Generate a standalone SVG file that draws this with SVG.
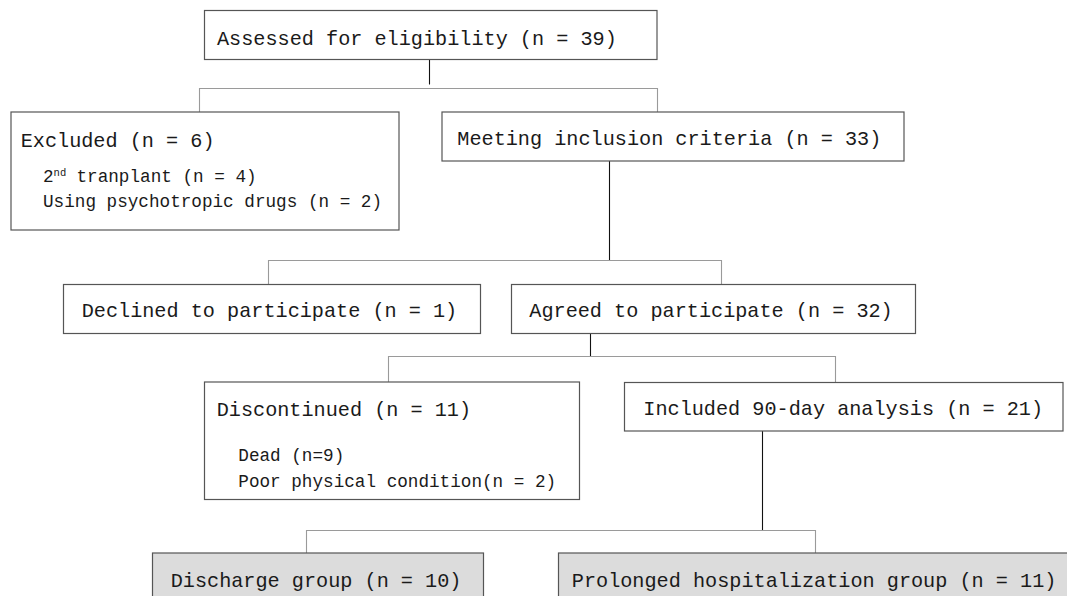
<svg xmlns="http://www.w3.org/2000/svg" width="1067" height="596" viewBox="0 0 1067 596">
<style>
.box{fill:#ffffff;stroke:#555555;stroke-width:1.2}
.grp{fill:#dcdcdc;stroke:#555555;stroke-width:1.2}
.t{font-family:"Liberation Mono","DejaVu Sans Mono",monospace;font-size:20.2px;fill:#1a1a1a}
.s{font-family:"Liberation Mono","DejaVu Sans Mono",monospace;font-size:17.67px;fill:#1a1a1a}
.sup{font-size:10.5px}
.stem{fill:none;stroke:#111111;stroke-width:1.1}
.br{fill:none;stroke:#9a9a9a;stroke-width:1.1}
</style>
<rect width="1067" height="596" fill="#ffffff"/>
<g id="connectors">
<line class="stem" x1="429.5" y1="59.5" x2="429.5" y2="84.5"/>
<polyline class="br" points="199.5,112 199.5,88.5 657.5,88.5 657.5,112"/>
<line class="stem" x1="609.5" y1="161" x2="609.5" y2="260.5"/>
<polyline class="br" points="268.5,284.5 268.5,260.5 721.5,260.5 721.5,284.5"/>
<line class="stem" x1="590.5" y1="333.5" x2="590.5" y2="356"/>
<polyline class="br" points="388.5,382 388.5,356.5 835.5,356.5 835.5,382"/>
<line class="stem" x1="762.5" y1="431" x2="762.5" y2="530"/>
<polyline class="br" points="306.5,553 306.5,530.5 815.5,530.5 815.5,553"/>
</g>
<g id="assessed">
<rect class="box" x="204.5" y="10.5" width="452.5" height="49"/>
<text class="t" x="217" y="44.5">Assessed for eligibility (n = 39)</text>
</g>
<g id="excluded">
<rect class="box" x="11" y="112" width="388" height="118"/>
<text class="t" x="20.7" y="147">Excluded (n = 6)</text>
<text class="s" x="43" y="181.5">2<tspan class="sup" dy="-5.5">nd</tspan><tspan x="65.9" dy="5.5"> tranplant (n = 4)</tspan></text>
<text class="s" x="43" y="206.5">Using psychotropic drugs (n = 2)</text>
</g>
<g id="meeting">
<rect class="box" x="442" y="112" width="462" height="49"/>
<text class="t" x="457.3" y="145">Meeting inclusion criteria (n = 33)</text>
</g>
<g id="declined">
<rect class="box" x="63.5" y="284.5" width="417" height="49"/>
<text class="t" x="81.7" y="317">Declined to participate (n = 1)</text>
</g>
<g id="agreed">
<rect class="box" x="511.5" y="284.5" width="404" height="49"/>
<text class="t" x="529.3" y="317">Agreed to participate (n = 32)</text>
</g>
<g id="discontinued">
<rect class="box" x="204.5" y="382" width="375" height="117.5"/>
<text class="t" x="216.7" y="416">Discontinued (n = 11)</text>
<text class="s" x="238.3" y="460.5">Dead (n=9)</text>
<text class="s" x="238.3" y="486.5">Poor physical condition(n = 2)</text>
</g>
<g id="included">
<rect class="box" x="624.5" y="382.5" width="438.5" height="48.5"/>
<text class="t" x="643.3" y="415">Included 90-day analysis (n = 21)</text>
</g>
<g id="discharge">
<rect class="grp" x="152.5" y="553" width="331" height="49"/>
<text class="t" x="170.7" y="587">Discharge group (n = 10)</text>
</g>
<g id="prolonged">
<rect class="grp" x="558.5" y="553" width="512" height="49"/>
<text class="t" x="571.8" y="587">Prolonged hospitalization group (n = 11)</text>
</g>
</svg>
